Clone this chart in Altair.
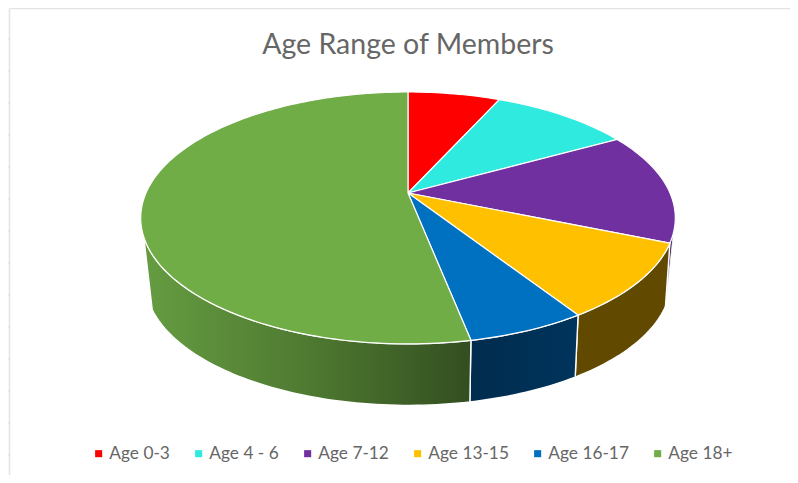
import math
import altair as alt

ages = ["Age 0-3", "Age 4 - 6", "Age 7-12", "Age 13-15", "Age 16-17", "Age 18+"]
shares = [6.75, 10.2, 14.3, 9.65, 6.0, 53.1]
colors = ["#ff0000", "#2eeadf", "#7030a0", "#ffc000", "#0070c0", "#70ad47"]

APEX_X, APEX_Y, A, B, K = 408.0, 193.0, 262.0, 121.0, 0.198


def rim_top(pct):
    th = 2 * math.pi * pct / 100
    u, v = math.sin(th), math.cos(th)
    d = 1 + K * v
    return [APEX_X + A * u / d, APEX_Y - B * v / d]


def rim_bottom(pct):
    x, y = rim_top(pct)
    return [APEX_X + 0.983 * (x - APEX_X), 281.5 + (y - 218.0) * 124.0 / 126.0]


def arc(fn, p0, p1):
    n = max(4, int(abs(p1 - p0) * 3))
    return [fn(p0 + (p1 - p0) * i / n) for i in range(n + 1)]


def feat(name, ring, kind="Polygon"):
    coords = [ring + [ring[0]]] if kind == "Polygon" else ring
    return {"type": "Feature", "properties": {"name": name},
            "geometry": {"type": kind, "coordinates": coords}}


edges = [0.0]
for s in shares:
    edges.append(edges[-1] + s)
edges[-1] = 100.0

tops = []
for i, name in enumerate(ages):
    tops.append(feat(name, [[APEX_X, APEX_Y]] + arc(rim_top, edges[i], edges[i + 1])))

proj = alt.Projection(type="identity", scale=1, translate=[-8, -8])


def wall(p_top0, p_top1, p_bot0, p_bot1, fill, sw=1.4):
    ring = arc(rim_top, p_top0, p_top1) + arc(rim_bottom, p_bot1, p_bot0)
    return alt.Chart(alt.Data(values=[feat("wall", ring)])).mark_geoshape(
        fill=fill, stroke="#ffffff", strokeWidth=sw
    ).project(**proj.to_dict())


def grad(*stops):
    return alt.LinearGradient(
        gradient="linear", x1=0, y1=0, x2=1, y2=0,
        stops=[alt.GradientStop(offset=o, color=c) for o, c in stops],
    )


walls = [
    wall(30.0, edges[3], edges[3], edges[3], "#3c1a5a", 0.8),
    wall(edges[3], edges[4], edges[3], edges[4], "#614a00"),
    wall(edges[4], edges[5], edges[4], edges[5], grad((0, "#002c4e"), (1, "#00345c"))),
    wall(edges[5], 69.5, edges[5], 68.3,
         grad((0, "#659c41"), (0.5, "#4f7a31"), (1, "#334e20"))),
]

top_layer = alt.Chart(alt.Data(values=tops)).mark_geoshape(
    stroke="#ffffff", strokeWidth=1.2
).encode(
    color=alt.Color(
        "properties.name:N",
        scale=alt.Scale(domain=ages, range=colors),
        sort=ages,
        legend=alt.Legend(
            title=None, orient="none", legendX=82, legendY=437,
            direction="horizontal", symbolType="square", symbolSize=50,
            symbolStrokeWidth=0, labelFont="Lato", labelFontSize=17.3,
            labelColor="#666666", columnPadding=20, labelOffset=2,
            labelLimit=200, columns=6,
        ),
    )
).project(**proj.to_dict())

frame_x, frame_y = 9.5, 8.5
y_ticks = [7.7 + 32 * i for i in range(1, 15)]
x_ticks = [23 + 106.4 * i for i in range(8)]
frame_lines = [[[[frame_x, frame_y], [frame_x, 483]]], [[[frame_x, frame_y], [798, frame_y]]]]
frame_feats = [feat("f", l[0], "LineString") for l in frame_lines]
frame_feats += [feat("t", [[5, y], [frame_x, y]], "LineString") for y in y_ticks]
frame_feats += [feat("t", [[x, 5], [x, frame_y]], "LineString") for x in x_ticks]
frame = alt.Chart(alt.Data(values=frame_feats)).mark_geoshape(
    filled=False, stroke="#e4e4e4", strokeWidth=1.6
).project(**proj.to_dict())

chart = alt.layer(frame, *walls, top_layer).properties(
    width=782, height=467, padding=0,
    autosize=alt.AutoSizeParams(type="none"),
    title=alt.TitleParams(
        "Age Range of Members", font="Lato", fontSize=28.5, fontWeight="normal",
        color="#666666", anchor="middle", dy=55, dx=9,
    ),
).configure_view(stroke=None)

chart.save("out.html", embed_options={"renderer": "svg", "actions": False})
